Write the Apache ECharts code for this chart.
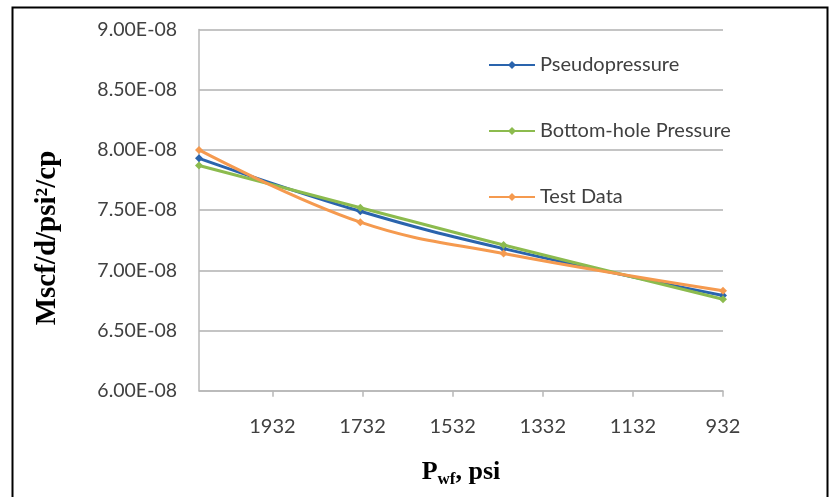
<!DOCTYPE html>
<html>
<head>
<meta charset="utf-8">
<script src="https://cdn.jsdelivr.net/npm/echarts@6/dist/echarts.min.js"></script>
<style>
  html, body { margin: 0; padding: 0; background: #ffffff; }
  #chart { width: 831px; height: 497px; }
</style>
</head>
<body>
<div id="chart"></div>
<script>
// Flowing bottom-hole pressure (psi) at each test point
const pressures = [2095, 1737, 1419, 932];

// Productivity per unit pressure-squared, Mscf/d/psi²/cp
const pseudopressure = [7.93e-8, 7.49e-8, 7.18e-8, 6.79e-8];
const bottomHolePressure = [7.87e-8, 7.52e-8, 7.21e-8, 6.76e-8];
const testData = [8.00e-8, 7.40e-8, 7.14e-8, 6.83e-8];

const seriesNames = ['Pseudopressure', 'Bottom-hole Pressure', 'Test Data'];
const seriesColors = ['#2a64ad', '#8cbb4e', '#f59a4f'];

// x axis: ticks every 200 psi starting from the lowest pressure
const xMin = 932, xMax = 2095, xStep = 200;
// y axis
const yMin = 6.0e-8, yMax = 9.0e-8, yStep = 0.5e-8;

function sciLabel(v) {
  const parts = v.toExponential(2).toUpperCase().split('E');
  const exp = parts[1];
  const sign = exp[0] === '-' ? '-' : '+';
  const digits = exp.replace(/^[+-]/, '').padStart(2, '0');
  return parts[0] + 'E' + sign + digits;
}

function pairs(ys) {
  return pressures.map((p, i) => [p, ys[i]]);
}

const allSeries = [pseudopressure, bottomHolePressure, testData].map((ys, i) => ({
  name: seriesNames[i],
  type: 'line',
  data: pairs(ys),
  smooth: 0.4,
  symbol: 'diamond',
  symbolSize: 8,
  showSymbol: true,
  lineStyle: { width: 3, color: seriesColors[i] },
  itemStyle: { color: seriesColors[i] },
  z: 3 + i
}));

const chart = echarts.init(document.getElementById('chart'), null, { renderer: 'canvas' });

chart.setOption({
  animation: false,
  backgroundColor: '#ffffff',
  color: seriesColors,
  grid: { left: 199, right: 108, top: 29.5, bottom: 106.3, containLabel: false },
  legend: {
    orient: 'vertical',
    left: 488,
    top: 55,
    padding: 0,
    itemWidth: 46,
    itemHeight: 10,
    itemGap: 46,
    data: seriesNames,
    textStyle: { fontFamily: 'Lato', fontSize: 20, color: '#404040', lineHeight: 20 }
  },
  xAxis: {
    type: 'value',
    inverse: true,
    min: xMin,
    max: xMax,
    interval: xStep,
    name: 'P{sub|wf}, psi',
    nameLocation: 'middle',
    nameGap: 66,
    nameTextStyle: {
      fontFamily: 'Liberation Serif',
      fontWeight: 'bold',
      fontSize: 26,
      color: '#000000',
      rich: {
        sub: { fontFamily: 'Liberation Serif', fontWeight: 'bold', fontSize: 17, color: '#000000', padding: [14, 0, 0, 0] }
      }
    },
    axisLine: { show: true, lineStyle: { color: '#b8b8b8', width: 1.5 } },
    axisTick: { show: true, length: 6, lineStyle: { color: '#b8b8b8', width: 1.5 } },
    axisLabel: {
      showMaxLabel: false,
      margin: 26,
      fontFamily: 'Lato',
      fontSize: 20,
      color: '#404040',
      formatter: v => String(v)
    },
    splitLine: { show: false }
  },
  yAxis: {
    type: 'value',
    min: yMin,
    max: yMax,
    interval: yStep,
    axisLine: { show: true, lineStyle: { color: '#b8b8b8', width: 1.5 } },
    axisTick: { show: false },
    axisLabel: {
      margin: 22,
      fontFamily: 'Lato',
      fontSize: 19.5,
      color: '#404040',
      formatter: sciLabel
    },
    splitLine: { show: true, lineStyle: { color: '#c4c4c4', width: 2 } }
  },
  graphic: [{
    type: 'text',
    x: 48,
    y: 238,
    rotation: Math.PI / 2,
    style: {
      text: 'Mscf/d/psi²/cp',
      fontFamily: 'Liberation Serif',
      fontWeight: 'bold',
      fontSize: 29,
      fill: '#000000',
      align: 'center',
      verticalAlign: 'middle'
    },
    silent: true
  }, {
    type: 'rect',
    left: 10,
    top: 5,
    shape: { width: 815, height: 500 },
    style: { fill: 'none', stroke: '#000000', lineWidth: 2 },
    silent: true,
    z: 100
  }],
  series: allSeries
});
</script>
</body>
</html>
